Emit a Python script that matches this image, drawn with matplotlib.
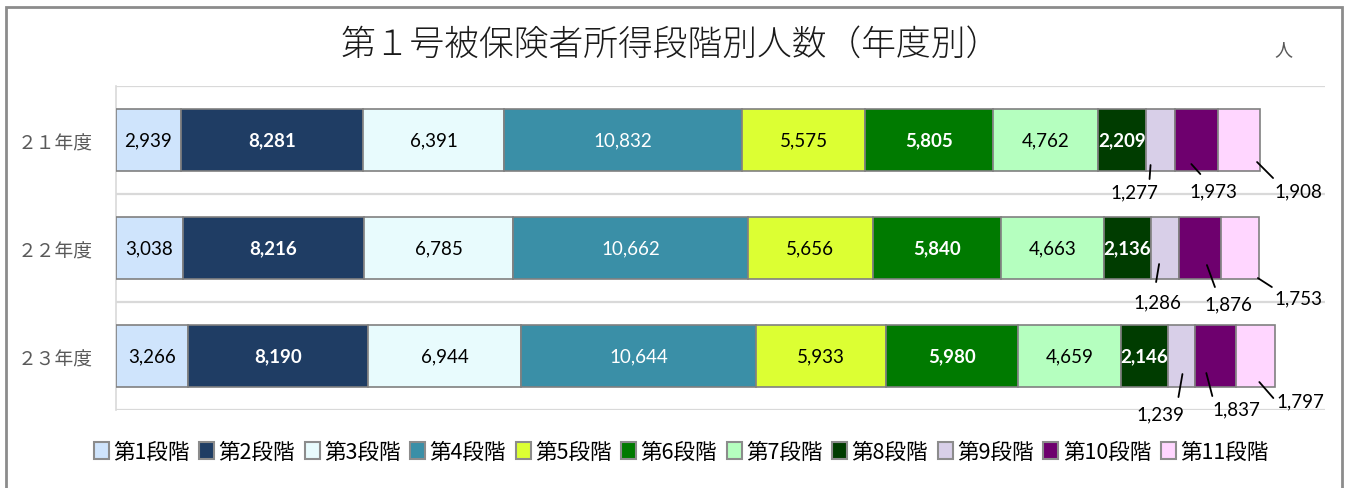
import numpy as np
import matplotlib.pyplot as plt
from matplotlib.patches import Patch, Rectangle
from matplotlib.transforms import offset_copy

plt.rcParams['font.family'] = ['Noto Sans CJK JP', 'DejaVu Sans']

# ================================ DATA ================================
years = ['２１年度', '２２年度', '２３年度']
stages = ['第1段階', '第2段階', '第3段階', '第4段階', '第5段階', '第6段階',
          '第7段階', '第8段階', '第9段階', '第10段階', '第11段階']
y21 = [2939, 8281, 6391, 10832, 5575, 5805, 4762, 2209, 1277, 1973, 1908]
y22 = [3038, 8216, 6785, 10662, 5656, 5840, 4663, 2136, 1286, 1876, 1753]
y23 = [3266, 8190, 6944, 10644, 5933, 5980, 4659, 2146, 1239, 1837, 1797]

# ================================ STYLE ===============================
colors = ['#cfe4fc', '#1f3d64', '#e8fbfd', '#3a8fa7', '#dcff33', '#007a00',
          '#b5ffbf', '#003c00', '#d8cfe8', '#6e006e', '#ffd6ff']
label_colors = ['black', 'white', 'black', 'white', 'black', 'white',
                'black', 'white']
label_bold = [False, True, False, False, False, True, False, True]
n_inside = 8

# outside labels (stage 9-11): anchor dx,dy / leader end dx,dy / text dx,dy
# in pixels from (segment centre, bar bottom), downwards positive
outside = [
    [(-10, -6, -11, 8, -26, 21), (-5, -7, 4, 3, 17, 20), (18, -9, 34, 7, 59, 20)],
    [(-6, -15, -9, 3, -8, 23), (7, -14, 15, 8, 28, 25), (18, -1, 32, 8, 59, 19)],
    [(1, -13, -3, 10, -21, 27), (-9, -14, -3, 9, 21, 22), (4, -5, 18, 11, 45, 14)],
]

W, H = 1348, 489
fig = plt.figure(figsize=(W / 100, H / 100), dpi=100)
fig.patches.append(Rectangle((6 / W, -0.05), 1336 / W, 1.05 - 8 / H,
                             transform=fig.transFigure, fill=False,
                             edgecolor='#8c8c8c', linewidth=2))

ax = fig.add_axes([116 / W, 78 / H, 1209 / W, 324 / H])
data = np.array([y21, y22, y23])
bar_h = 0.575
left = np.zeros(len(years))
for j in range(len(stages)):
    vals = data[:, j]
    ax.barh(np.arange(len(years)), vals, left=left, height=bar_h,
            color=colors[j], edgecolor='#808080', linewidth=1.2, zorder=3)
    for i, v in enumerate(vals):
        xc = left[i] + v / 2
        if j < n_inside:
            ax.text(xc, i, f'{v:,}', ha='center', va='center',
                    family='Lato', fontsize=13.5,
                    color=label_colors[j],
                    fontweight='bold' if label_bold[j] else 'normal',
                    zorder=4)
        else:
            adx, ady, edx, edy, ldx, ldy = outside[i][j - n_inside]
            ybot = i + bar_h / 2
            ta = offset_copy(ax.transData, fig=fig, x=adx, y=-ady, units='dots')
            te = offset_copy(ax.transData, fig=fig, x=edx, y=-edy, units='dots')
            ax.annotate('', xy=(xc, ybot), xycoords=ta,
                        xytext=(xc, ybot), textcoords=te,
                        arrowprops=dict(arrowstyle='-', color='black', lw=1.3,
                                        shrinkA=0, shrinkB=0), zorder=5)
            ax.annotate(f'{v:,}', xy=(xc, ybot), xytext=(ldx, -ldy),
                        textcoords='offset pixels', ha='center', va='center',
                        family='Lato', fontsize=13.5, color='black',
                        annotation_clip=False, zorder=5)
    left += vals

ax.set_xlim(0, 54900)
ax.set_ylim(len(years) - 0.5, -0.5)
ax.set_xticks([])
ax.set_yticks(range(len(years)))
ax.set_yticklabels(years, fontsize=13.5, color='#595959')
ax.tick_params(axis='y', length=0, pad=17)
for b in np.arange(-0.5, len(years), 1.0):
    ax.axhline(b, color='#d9d9d9', lw=1.6, zorder=1)
for s in ['top', 'right', 'bottom']:
    ax.spines[s].set_visible(False)
ax.spines['left'].set_color('#d9d9d9')
ax.spines['left'].set_linewidth(1.2)

fig.text(671 / W, 1 - 45 / H, '第１号被保険者所得段階別人数（年度別）',
         ha='center', va='center', fontsize=25, fontweight='light',
         color='#1a1a1a')
fig.text(1283 / W, 1 - 50 / H, '人', ha='center', va='center',
         fontsize=13, color='#595959')

handles = [Patch(facecolor=c, edgecolor='#8c8c8c', linewidth=1.5) for c in colors]
fig.legend(handles, stages, loc='center', bbox_to_anchor=(681 / W, 1 - 453 / H),
           ncol=len(stages), frameon=False, fontsize=15.5, handlelength=0.7,
           handleheight=0.85, handletextpad=0.2, columnspacing=0.45)

fig.savefig('out.png', dpi=100)
